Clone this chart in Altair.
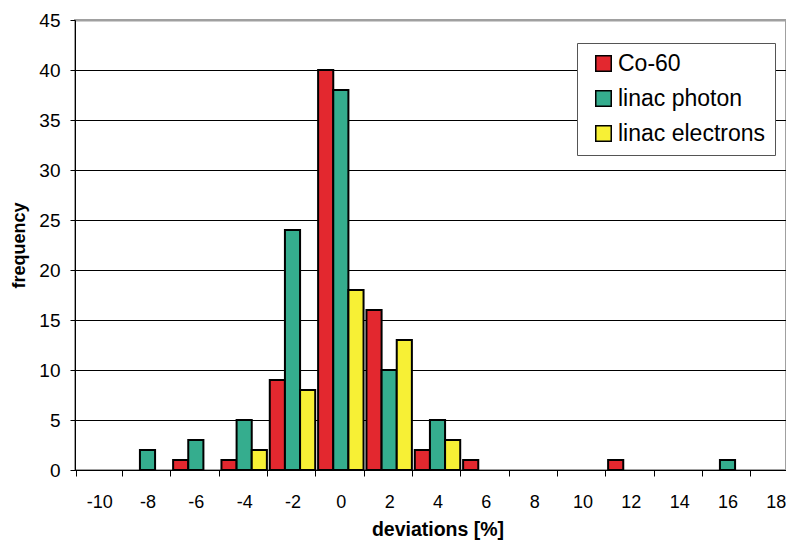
import altair as alt
import pandas as pd

categories = [-10, -8, -6, -4, -2, 0, 2, 4, 6, 8, 10, 12, 14, 16, 18]
co60 = [0, 0, 1, 1, 9, 40, 16, 2, 1, 0, 0, 1, 0, 0, 0]
linac_photon = [0, 2, 3, 5, 24, 38, 10, 5, 0, 0, 0, 0, 0, 1, 0]
linac_electrons = [0, 0, 0, 2, 8, 18, 13, 3, 0, 0, 0, 0, 0, 0, 0]
series = ["Co-60", "linac photon", "linac electrons"]
colors = ["#E3282F", "#35AD8E", "#F7F035"]
y_ticks = [0, 5, 10, 15, 20, 25, 30, 35, 40, 45]

rows = []
for name, vals in zip(series, [co60, linac_photon, linac_electrons]):
    for c, v in zip(categories, vals):
        if v > 0:
            rows.append({"dev": str(c), "series": name, "freq": v})
df = pd.DataFrame(rows)
cat_labels = [str(c) for c in categories]

font = "Liberation Sans"

chart = alt.Chart(df).mark_bar(stroke="black", strokeWidth=2).encode(
    x=alt.X(
        "dev:N",
        sort=cat_labels,
        scale=alt.Scale(domain=cat_labels, range=[0, 725], paddingInner=0.06, paddingOuter=0.03),
        axis=alt.Axis(
            title="deviations [%]", labelAngle=0, tickBand="extent", grid=False,
            labelFontSize=18, labelPadding=17, tickSize=6, tickWidth=1,
            titleFontSize=19.5, titleFontWeight="bold", titlePadding=9,
        ),
    ),
    xOffset=alt.XOffset("series:N", sort=series,
                        scale=alt.Scale(domain=series, paddingInner=0, paddingOuter=0)),
    y=alt.Y(
        "freq:Q",
        scale=alt.Scale(domain=[0, 45], nice=False),
        axis=alt.Axis(
            title="frequency", values=y_ticks, grid=True,
            gridColor={"condition": {"test": "datum.value === 45", "value": "#a0a0a0"}, "value": "black"},
            gridWidth={"condition": {"test": "datum.value === 45", "value": 2}, "value": 1},
            labelFontSize=19, labelPadding=10, tickSize=5,
            titleFontSize=18, titleFontWeight="bold", titlePadding=10,
        ),
    ),
    color=alt.Color(
        "series:N",
        scale=alt.Scale(domain=series, range=colors),
        legend=alt.Legend(
            title=None, orient="none", legendX=502, legendY=23,
            fillColor="white", strokeColor="#555555", padding=9,
            labelFontSize=23, labelFont=font, labelColor="black", rowPadding=11,
            labelExpr="datum.label + '\u00a0\u00a0'",
            symbolType="square", symbolSize=240, symbolStrokeColor="black",
            symbolStrokeWidth=1.5, symbolOpacity=1, symbolOffset=6, labelOffset=3,
        ),
    ),
).properties(
    width=711, height=450, autosize="none",
    padding={"left": 67, "top": 12, "right": 0, "bottom": 72},
).configure_axis(
    labelFont=font, titleFont=font, labelColor="black", titleColor="black",
    domainColor="black", tickColor="black",
).configure_view(stroke="#a0a0a0", strokeWidth=2)

chart.save("out.html", embed_options={"renderer": "svg", "actions": False})
